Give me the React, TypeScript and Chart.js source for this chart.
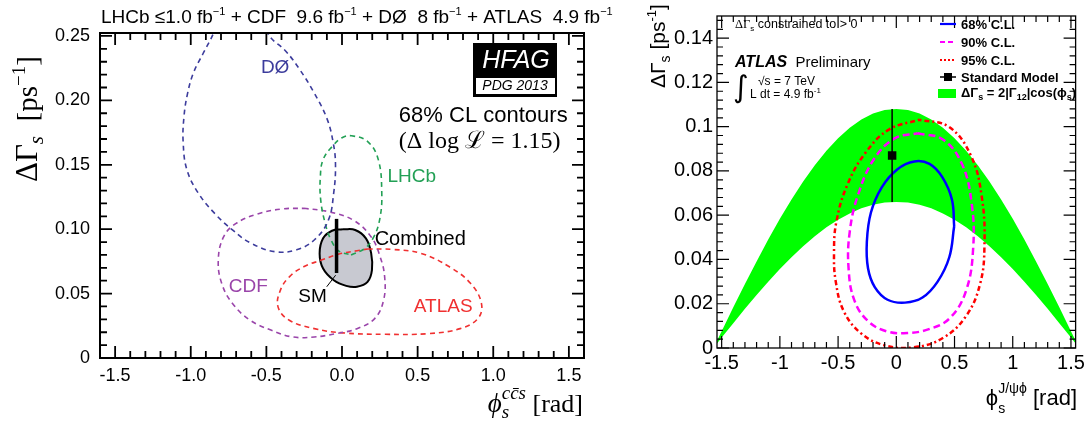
import React, { useEffect, useRef } from "react";
import { Chart, registerables } from "chart.js";

Chart.register(...registerables);

// ================= LEFT PANEL (HFAG 2013, 68% CL contours) =================
const leftXTicks = [-1.5, -1.0, -0.5, 0, 0.5, 1.0, 1.5];
const leftYTicks = [0, 0.05, 0.1, 0.15, 0.2, 0.25];

const d0Phi = [-0.72, -0.85, -0.92, -0.98, -1.02, -1.045, -1.05, -1.025, -0.95, -0.84, -0.72, -0.6, -0.44, -0.3, -0.18, -0.09, -0.055, -0.043, -0.058, -0.1, -0.19, -0.28, -0.37, -0.49, -0.6, -0.72];
const d0DG = [0.29, 0.252, 0.236, 0.222, 0.206, 0.187, 0.167, 0.146, 0.128, 0.112, 0.099, 0.089, 0.0825, 0.084, 0.092, 0.107, 0.128, 0.15, 0.167, 0.186, 0.207, 0.224, 0.238, 0.252, 0.29, 0.29];

const lhcbPhi = [0.06, 0.15, 0.21, 0.25, 0.263, 0.24, 0.17, 0.063, 0.0, -0.066, -0.125, -0.143, -0.141, -0.11, -0.07, -0.02, 0.06];
const lhcbDG = [0.08, 0.085, 0.094, 0.108, 0.128, 0.154, 0.168, 0.1725, 0.171, 0.164, 0.154, 0.141, 0.123, 0.104, 0.091, 0.083, 0.08];

const cdfPhi = [-0.254, -0.089, 0.075, 0.193, 0.252, 0.282, 0.275, 0.216, 0.099, -0.042, -0.183, -0.324, -0.466, -0.607, -0.724, -0.795, -0.818, -0.783, -0.7, -0.56, -0.395, -0.254];
const cdfDG = [0.1162, 0.1136, 0.107, 0.094, 0.0786, 0.063, 0.0449, 0.0306, 0.0228, 0.0189, 0.0163, 0.0163, 0.0215, 0.0293, 0.0423, 0.0578, 0.076, 0.094, 0.1045, 0.1118, 0.1157, 0.1162];

const atlasPhi = [0.169, 0.334, 0.522, 0.71, 0.851, 0.922, 0.898, 0.781, 0.569, 0.287, 0.005, -0.183, -0.348, -0.423, -0.407, -0.348, -0.254, -0.136, -0.019, 0.099, 0.169];
const atlasDG = [0.0846, 0.0843, 0.0812, 0.0708, 0.0578, 0.0423, 0.0306, 0.0228, 0.0189, 0.0184, 0.0195, 0.0228, 0.0293, 0.0397, 0.0527, 0.063, 0.0708, 0.076, 0.0807, 0.0833, 0.0846];

const combPhi = [0.005, 0.087, 0.158, 0.193, 0.198, 0.169, 0.099, 0.028, -0.054, -0.125, -0.148, -0.125, -0.066, 0.005];
const combDG = [0.0999, 0.0994, 0.0929, 0.0812, 0.0682, 0.0591, 0.0553, 0.056, 0.0604, 0.0695, 0.0812, 0.0929, 0.0988, 0.0999];

const smLeftPhi = [-0.036, -0.036];
const smLeftDG = [0.066, 0.108];

// ================= RIGHT PANEL (ATLAS preliminary) =================
const rightXTicks = [-1.5, -1, -0.5, 0, 0.5, 1, 1.5];
const rightYTicks = [0, 0.02, 0.04, 0.06, 0.08, 0.1, 0.12, 0.14];

const bandPhi = [-1.54, -1.5, -1.4, -1.3, -1.2, -1.1, -1.0, -0.9, -0.8, -0.7, -0.6, -0.5, -0.4, -0.3, -0.2, -0.1, 0, 0.1, 0.2, 0.3, 0.4, 0.5, 0.6, 0.7, 0.8, 0.9, 1.0, 1.1, 1.2, 1.3, 1.4, 1.5, 1.54];
const bandUpper = [0.0033, 0.0076, 0.0184, 0.0289, 0.0391, 0.049, 0.0584, 0.0671, 0.0752, 0.0826, 0.0891, 0.0948, 0.0995, 0.1032, 0.1059, 0.1075, 0.108, 0.1075, 0.1059, 0.1032, 0.0995, 0.0948, 0.0891, 0.0826, 0.0752, 0.0671, 0.0584, 0.049, 0.0391, 0.0289, 0.0184, 0.0076, 0.0033];
const bandLower = [0.002, 0.0047, 0.0112, 0.0177, 0.0239, 0.0299, 0.0357, 0.041, 0.046, 0.0505, 0.0545, 0.0579, 0.0608, 0.0631, 0.0647, 0.0657, 0.066, 0.0657, 0.0647, 0.0631, 0.0608, 0.0579, 0.0545, 0.0505, 0.046, 0.041, 0.0357, 0.0299, 0.0239, 0.0177, 0.0112, 0.0047, 0.002];

const cl68Phi = [0.497, 0.478, 0.395, 0.285, 0.155, 0.01, -0.125, -0.218, -0.253, -0.243, -0.185, -0.075, 0.075, 0.225, 0.355, 0.455, 0.497];
const cl68DG = [0.055, 0.067, 0.0772, 0.0832, 0.0843, 0.0808, 0.0726, 0.0612, 0.048, 0.036, 0.0275, 0.0218, 0.0205, 0.0228, 0.03, 0.041, 0.055];

const cl90Phi = [0.183, 0.4, 0.565, 0.648, 0.66, 0.6, 0.46, 0.28, 0.1, -0.08, -0.24, -0.36, -0.41, -0.4, -0.33, -0.19, -0.01, 0.183];
const cl90DG = [0.097, 0.0942, 0.083, 0.065, 0.045, 0.026, 0.0135, 0.0085, 0.0068, 0.0075, 0.012, 0.0215, 0.036, 0.0525, 0.069, 0.0855, 0.0948, 0.097];

const cl95Phi = [0.198, 0.45, 0.64, 0.735, 0.757, 0.72, 0.6, 0.4, 0.15, -0.1, -0.3, -0.45, -0.52, -0.535, -0.515, -0.42, -0.26, -0.06, 0.198];
const cl95DG = [0.1031, 0.1, 0.087, 0.068, 0.046, 0.029, 0.0145, 0.0045, 0.0003, 0.0012, 0.0065, 0.0165, 0.03, 0.043, 0.057, 0.0738, 0.0885, 0.0988, 0.1031];

const smRightPhi = [-0.036];
const smRightDG = [0.087];
const smRightErrDG = [0.066, 0.108];

// ================= helpers =================
const SANS = '"Liberation Sans", Arial, Helvetica, sans-serif';
const SERIF = '"Liberation Serif", "DejaVu Serif", serif';

const pts = (xs: number[], ys: number[]) => xs.map((x, i) => ({ x, y: ys[i] }));

type Part = { t: string; f: string; dy?: number; noAdv?: boolean; c?: string };

function drawRich(ctx: CanvasRenderingContext2D, x: number, y: number, parts: Part[], align: "left" | "right" | "center" = "left") {
  ctx.textAlign = "left";
  let w = 0;
  for (const p of parts) {
    ctx.font = p.f;
    if (!p.noAdv) w += ctx.measureText(p.t).width;
  }
  let cx = align === "left" ? x : align === "right" ? x - w : x - w / 2;
  for (const p of parts) {
    ctx.font = p.f;
    if (p.c) ctx.fillStyle = p.c;
    ctx.fillText(p.t, cx, y + (p.dy || 0));
    if (!p.noAdv) cx += ctx.measureText(p.t).width;
  }
}

function drawTicks(
  chart: any,
  xStep: number, xMajorEvery: number,
  yStep: number, yMajorEvery: number,
  majLen: number, minLen: number, lw: number
) {
  const ctx: CanvasRenderingContext2D = chart.ctx;
  const { left, right, top, bottom } = chart.chartArea;
  const xs = chart.scales.x, ys = chart.scales.y;
  ctx.save();
  ctx.strokeStyle = "#000";
  ctx.lineWidth = lw;
  ctx.beginPath();
  const i0 = Math.ceil(xs.min / xStep - 1e-9), i1 = Math.floor(xs.max / xStep + 1e-9);
  for (let i = i0; i <= i1; i++) {
    const px = xs.getPixelForValue(i * xStep);
    const len = i % xMajorEvery === 0 ? majLen : minLen;
    ctx.moveTo(px, bottom); ctx.lineTo(px, bottom - len);
    ctx.moveTo(px, top); ctx.lineTo(px, top + len);
  }
  const j0 = Math.ceil(ys.min / yStep - 1e-9), j1 = Math.floor(ys.max / yStep + 1e-9);
  for (let j = j0; j <= j1; j++) {
    const py = ys.getPixelForValue(j * yStep);
    const len = j % yMajorEvery === 0 ? majLen : minLen;
    ctx.moveTo(left, py); ctx.lineTo(left + len, py);
    ctx.moveTo(right, py); ctx.lineTo(right - len, py);
  }
  ctx.stroke();
  ctx.restore();
}

// ================= left decorations =================
const leftDecor = {
  id: "leftDecor",
  afterDraw(chart: any) {
    const ctx: CanvasRenderingContext2D = chart.ctx;
    const { left, right, top, bottom } = chart.chartArea;
    const xs = chart.scales.x, ys = chart.scales.y;
    const X = (v: number) => xs.getPixelForValue(v);
    const Y = (v: number) => ys.getPixelForValue(v);
    drawTicks(chart, 0.1, 5, 0.01, 5, 12, 7, 1.8);
    ctx.save();
    ctx.strokeStyle = "#000";
    ctx.lineWidth = 2;
    ctx.strokeRect(left, top, right - left, bottom - top);

    ctx.fillStyle = "#000";
    ctx.textBaseline = "alphabetic";
    // title
    const T = `19px ${SANS}`, TS = `11px ${SANS}`;
    drawRich(ctx, 101, 23, [
      { t: "LHCb \u22641.0 fb", f: T }, { t: "\u22121", f: TS, dy: -8 },
      { t: " + CDF  9.6 fb", f: T }, { t: "\u22121", f: TS, dy: -8 },
      { t: " + D\u00D8  8 fb", f: T }, { t: "\u22121", f: TS, dy: -8 },
      { t: " + ATLAS  4.9 fb", f: T }, { t: "\u22121", f: TS, dy: -8 },
    ]);

    // contour labels
    ctx.textBaseline = "middle";
    ctx.font = `19px ${SANS}`;
    ctx.textAlign = "center";
    ctx.fillStyle = "#3c3c9c"; ctx.fillText("D\u00D8", X(-0.442), Y(0.225));
    ctx.textAlign = "left";
    ctx.fillStyle = "#22a055"; ctx.fillText("LHCb", X(0.3), Y(0.141));
    ctx.fillStyle = "#9a45aa"; ctx.fillText("CDF", X(-0.748), Y(0.0553));
    ctx.fillStyle = "#f03030"; ctx.fillText("ATLAS", X(0.475), Y(0.0397));
    ctx.fillStyle = "#000";
    ctx.font = `20px ${SANS}`;
    ctx.fillText("Combined", X(0.216), Y(0.092));
    ctx.font = `19px ${SANS}`;
    ctx.fillText("SM", X(-0.289), Y(0.0475));
    ctx.strokeStyle = "#000"; ctx.lineWidth = 1;
    ctx.beginPath(); ctx.moveTo(X(-0.101), Y(0.0553)); ctx.lineTo(X(-0.042), Y(0.0643)); ctx.stroke();

    ctx.font = `22px ${SANS}`;
    ctx.fillText("68% CL contours", X(0.376), Y(0.1876));
    drawRich(ctx, X(0.376), Y(0.168), [
      { t: "(\u0394 log ", f: `24px ${SERIF}` },
      { t: "\u2112", f: `24px "DejaVu Serif", serif` },
      { t: " = 1.15)", f: `24px ${SERIF}` },
    ]);

    // HFAG logo box
    ctx.fillStyle = "#000";
    ctx.fillRect(473, 43, 84, 54);
    ctx.fillStyle = "#fff";
    ctx.fillRect(476, 78, 79, 16);
    ctx.textAlign = "center";
    ctx.font = `italic 25px ${SANS}`;
    ctx.fillText("HFAG", 516, 61);
    ctx.fillStyle = "#000";
    ctx.font = `italic 14px ${SANS}`;
    ctx.fillText("PDG 2013", 515, 86.5);

    // y-axis title (rotated)
    ctx.save();
    ctx.translate(37, 182);
    ctx.rotate(-Math.PI / 2);
    ctx.textBaseline = "alphabetic";
    ctx.fillStyle = "#000";
    drawRich(ctx, 0, 0, [
      { t: "\u0394\u0393", f: `31px ${SERIF}` },
      { t: "s", f: `italic 21px ${SERIF}`, dy: 6 },
      { t: "  [ps", f: `29px ${SERIF}` },
      { t: "\u22121", f: `19px ${SERIF}`, dy: -12 },
      { t: "]", f: `29px ${SERIF}` },
    ]);
    ctx.restore();

    // x-axis title
    ctx.textBaseline = "alphabetic";
    ctx.fillStyle = "#000";
    drawRich(ctx, 583, 412, [
      { t: "\u03D5", f: `italic 27px ${SERIF}` },
      { t: "s", f: `italic 19px ${SERIF}`, dy: 6, noAdv: true },
      { t: "cc\u0304s", f: `italic 19px ${SERIF}`, dy: -13 },
      { t: " [rad]", f: `26px ${SERIF}` },
    ], "right");
    ctx.restore();
  },
};

// ================= right decorations =================
const OFF = 620;
const rightDecor = {
  id: "rightDecor",
  afterDraw(chart: any) {
    const ctx: CanvasRenderingContext2D = chart.ctx;
    const { left, right, top, bottom } = chart.chartArea;
    drawTicks(chart, 0.1, 5, 0.004, 5, 12, 6, 1.2);
    ctx.save();
    ctx.strokeStyle = "#000";
    ctx.lineWidth = 1.3;
    ctx.strokeRect(left, top, right - left, bottom - top);
    ctx.fillStyle = "#000";
    ctx.textBaseline = "alphabetic";

    // constraint note
    drawRich(ctx, 735 - OFF, 28, [
      { t: "\u0394\u0393", f: `12.5px ${SERIF}` },
      { t: "s", f: `8px ${SANS}`, dy: 3 },
      { t: " constrained to > 0", f: `12.5px ${SANS}` },
    ]);
    // ATLAS Preliminary
    drawRich(ctx, 735 - OFF, 67, [
      { t: "ATLAS", f: `bold italic 16px ${SANS}` },
      { t: "  Preliminary", f: `15px ${SANS}` },
    ]);
    ctx.font = `30px "DejaVu Sans", sans-serif`;
    ctx.fillText("\u222B", 733 - OFF, 97);
    drawRich(ctx, 758 - OFF, 85, [
      { t: "\u221As = 7 TeV", f: `12px ${SANS}` },
    ]);
    drawRich(ctx, 750 - OFF, 98, [
      { t: "L dt = 4.9 fb", f: `12px ${SANS}` },
      { t: "-1", f: `8px ${SANS}`, dy: -5 },
    ]);

    // legend
    const lx0 = 940 - OFF, lx1 = 956 - OFF, tx = 961 - OFF;
    const rows = [24, 42, 60, 77, 93];
    ctx.lineWidth = 2.2;
    ctx.strokeStyle = "#0000ff"; ctx.setLineDash([]);
    ctx.beginPath(); ctx.moveTo(lx0, rows[0]); ctx.lineTo(lx1, rows[0]); ctx.stroke();
    ctx.strokeStyle = "#ff00ff"; ctx.setLineDash([5, 3]);
    ctx.beginPath(); ctx.moveTo(lx0, rows[1]); ctx.lineTo(lx1, rows[1]); ctx.stroke();
    ctx.strokeStyle = "#ff0000"; ctx.setLineDash([2, 2]);
    ctx.beginPath(); ctx.moveTo(lx0, rows[2]); ctx.lineTo(lx1, rows[2]); ctx.stroke();
    ctx.setLineDash([]);
    ctx.strokeStyle = "#000"; ctx.lineWidth = 1.5;
    ctx.beginPath(); ctx.moveTo(lx0, rows[3]); ctx.lineTo(lx1, rows[3]); ctx.stroke();
    ctx.fillStyle = "#000"; ctx.fillRect(944 - OFF, rows[3] - 4, 8, 8);
    ctx.fillStyle = "#00ff00"; ctx.fillRect(938 - OFF, rows[4] - 4, 18, 9);

    ctx.fillStyle = "#000";
    const LB = `bold 13px ${SANS}`, LS = `bold 9px ${SANS}`;
    ctx.font = LB;
    ctx.fillText("68% C.L.", tx, rows[0] + 5);
    ctx.fillText("90% C.L.", tx, rows[1] + 5);
    ctx.fillText("95% C.L.", tx, rows[2] + 5);
    ctx.fillText("Standard Model", tx, rows[3] + 5);
    drawRich(ctx, tx, rows[4] + 4, [
      { t: "\u0394\u0393", f: LB }, { t: "s", f: LS, dy: 3 },
      { t: " = 2|\u0393", f: LB }, { t: "12", f: LS, dy: 3 },
      { t: "|cos(\u03D5", f: LB }, { t: "s", f: LS, dy: 3 }, { t: ")", f: LB },
    ]);

    // y-axis title
    ctx.save();
    ctx.translate(665 - OFF, 88);
    ctx.rotate(-Math.PI / 2);
    drawRich(ctx, 0, 0, [
      { t: "\u0394\u0393", f: `21px ${SANS}` },
      { t: "s", f: `14px ${SANS}`, dy: 5 },
      { t: " [ps", f: `21px ${SANS}` },
      { t: "-1", f: `13px ${SANS}`, dy: -9 },
      { t: "]", f: `21px ${SANS}` },
    ]);
    ctx.restore();

    // x-axis title
    drawRich(ctx, 1077 - OFF, 405, [
      { t: "\u03D5", f: `22px ${SANS}` },
      { t: "s", f: `14px ${SANS}`, dy: 8, noAdv: true },
      { t: "J/\u03C8\u03D5", f: `14px ${SANS}`, dy: -12 },
      { t: " [rad]", f: `22px ${SANS}` },
    ], "right");
    ctx.restore();
  },
};

function leftConfig(): any {
  const dashed = (data: any, color: string) => ({
    data, showLine: true, borderColor: color, borderWidth: 1.6, borderDash: [5, 4],
    pointRadius: 0, tension: 0.4, fill: false, order: 1,
  });
  return {
    type: "scatter",
    data: {
      datasets: [
        { data: pts(smLeftPhi, smLeftDG), showLine: true, borderColor: "#000", borderWidth: 3.5, pointRadius: 0, order: 0 },
        dashed(pts(d0Phi, d0DG), "#3c3c9c"),
        dashed(pts(lhcbPhi, lhcbDG), "#22a055"),
        dashed(pts(cdfPhi, cdfDG), "#9a45aa"),
        dashed(pts(atlasPhi, atlasDG), "#f03030"),
        { data: pts(combPhi, combDG), showLine: true, borderColor: "#000", borderWidth: 2, backgroundColor: "#c8c9d1", fill: "shape", pointRadius: 0, tension: 0.4, order: 10 },
      ],
    },
    options: {
      animation: false,
      responsive: false,
      layout: { padding: { left: 0, top: 33, right: 36, bottom: 0 } },
      elements: { line: { capBezierPoints: false } },
      plugins: { legend: { display: false }, tooltip: { enabled: false }, title: { display: false } },
      scales: {
        x: {
          type: "linear", min: -1.6, max: 1.6,
          grid: { display: false, drawTicks: false }, border: { display: false },
          afterBuildTicks: (a: any) => { a.ticks = leftXTicks.map((v) => ({ value: v })); },
          afterFit: (a: any) => { a.height = 68; },
          ticks: { padding: 7, color: "#000", autoSkip: false, maxRotation: 0, font: { family: SANS, size: 18 }, callback: (v: any) => Number(v).toFixed(1) },
        },
        y: {
          type: "linear", min: 0, max: 0.2523,
          grid: { display: false, drawTicks: false }, border: { display: false },
          afterBuildTicks: (a: any) => { a.ticks = leftYTicks.map((v) => ({ value: v })); },
          afterFit: (a: any) => { a.width = 100; },
          ticks: { padding: 10, color: "#000", autoSkip: false, font: { family: SANS, size: 18 }, callback: (v: any) => (Number(v) === 0 ? "0" : Number(v).toFixed(2)) },
        },
      },
    },
    plugins: [leftDecor],
  };
}

function rightConfig(): any {
  return {
    type: "scatter",
    data: {
      datasets: [
        { data: pts(smRightPhi, smRightDG), showLine: false, pointStyle: "rect", pointRadius: 6, backgroundColor: "#000", borderColor: "#000", borderWidth: 0, order: 0 },
        { data: pts([smRightPhi[0], smRightPhi[0]], smRightErrDG), showLine: true, borderColor: "#000", borderWidth: 1.5, pointRadius: 0, order: 1 },
        { data: pts(cl68Phi, cl68DG), showLine: true, borderColor: "#0000ff", borderWidth: 2.5, pointRadius: 0, tension: 0.4, order: 2 },
        { data: pts(cl90Phi, cl90DG), showLine: true, borderColor: "#ff00ff", borderWidth: 2.5, borderDash: [7, 4], pointRadius: 0, tension: 0.4, order: 3 },
        { data: pts(cl95Phi, cl95DG), showLine: true, borderColor: "#ff0000", borderWidth: 2.5, borderDash: [2, 3, 5, 3], pointRadius: 0, tension: 0.4, order: 4 },
        { data: pts(bandPhi, bandUpper), showLine: true, borderWidth: 0, borderColor: "#00ff00", backgroundColor: "#00ff00", fill: "+1", pointRadius: 0, order: 20 },
        { data: pts(bandPhi, bandLower), showLine: true, borderWidth: 0, borderColor: "#00ff00", pointRadius: 0, fill: false, order: 21 },
      ],
    },
    options: {
      animation: false,
      responsive: false,
      layout: { padding: { left: 0, top: 1, right: 11, bottom: 0 } },
      elements: { line: { capBezierPoints: false } },
      plugins: { legend: { display: false }, tooltip: { enabled: false }, title: { display: false } },
      scales: {
        x: {
          type: "linear", min: -1.54, max: 1.54,
          grid: { display: false, drawTicks: false }, border: { display: false },
          afterBuildTicks: (a: any) => { a.ticks = rightXTicks.map((v) => ({ value: v })); },
          afterFit: (a: any) => { a.height = 78; },
          ticks: { padding: 3, color: "#000", autoSkip: false, maxRotation: 0, font: { family: SANS, size: 20 }, callback: (v: any) => String(Number(Number(v).toFixed(2))) },
        },
        y: {
          type: "linear", min: 0, max: 0.15,
          grid: { display: false, drawTicks: false }, border: { display: false },
          afterBuildTicks: (a: any) => { a.ticks = rightYTicks.map((v) => ({ value: v })); },
          afterFit: (a: any) => { a.width = 97; },
          ticks: { padding: 4, color: "#000", autoSkip: false, font: { family: SANS, size: 20 }, callback: (v: any) => String(Number(Number(v).toFixed(3))) },
        },
      },
    },
    plugins: [rightDecor],
  };
}

export default function App() {
  const lref = useRef<HTMLCanvasElement>(null);
  const rref = useRef<HTMLCanvasElement>(null);
  useEffect(() => {
    const lc = new Chart(lref.current as HTMLCanvasElement, leftConfig());
    const rc = new Chart(rref.current as HTMLCanvasElement, rightConfig());
    return () => { lc.destroy(); rc.destroy(); };
  }, []);
  return (
    <div style={{ position: "fixed", left: 0, top: 0, width: 1088, height: 426, background: "#fff", overflow: "hidden" }}>
      <canvas ref={lref} width={620} height={426} style={{ position: "absolute", left: 0, top: 0, width: 620, height: 426 }} />
      <canvas ref={rref} width={468} height={426} style={{ position: "absolute", left: 620, top: 0, width: 468, height: 426 }} />
    </div>
  );
}
